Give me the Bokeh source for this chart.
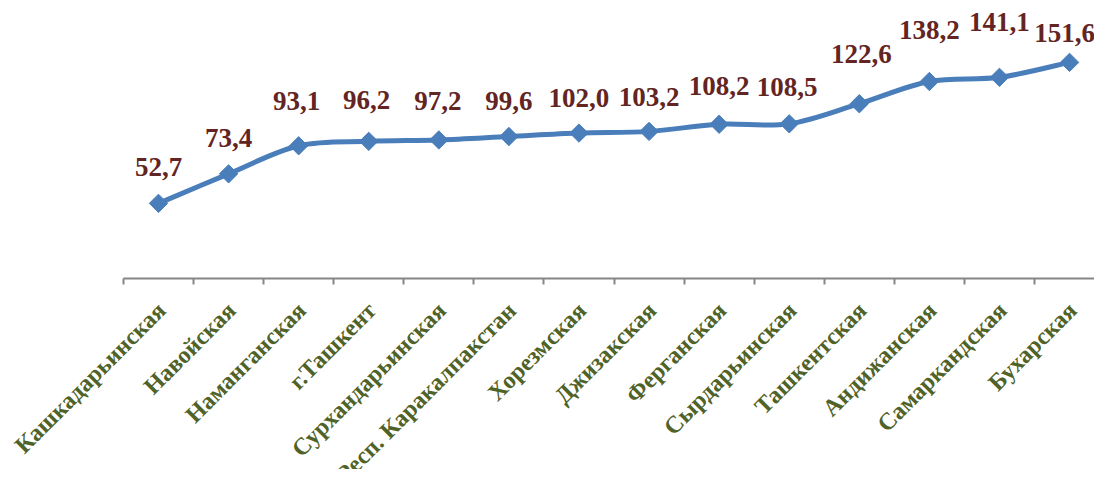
import numpy as np
from bokeh.plotting import figure
from bokeh.models import ColumnDataSource, Range1d, FixedTicker
from bokeh.core.properties import value
from bokeh.embed import file_html
from bokeh.resources import INLINE

regions = ["Кашкадарьинская", "Навойская", "Наманганская", "г.Ташкент",
           "Сурхандарьинская", "Респ. Каракалпакстан", "Хорезмская", "Джизакская",
           "Ферганская", "Сырдарьинская", "Ташкентская", "Андижанская",
           "Самаркандская", "Бухарская"]
values = [52.7, 73.4, 93.1, 96.2, 97.2, 99.6, 102.0, 103.2, 108.2, 108.5,
          122.6, 138.2, 141.1, 151.6]
value_labels = ["52,7", "73,4", "93,1", "96,2", "97,2", "99,6", "102,0", "103,2",
                "108,2", "108,5", "122,6", "138,2", "141,1", "151,6"]

# per-label placement nudges (screen px, style only)
label_dy = [-36, -36, -45, -41, -39, -36, -35, -34, -38, -37, -50, -51, -55, -29]
label_dx = [0, 0, -2, -2, -1, 0, 0, 0, 0, -2, 2, 0, 0, -5]

LINE = "#4A7EBB"
LABEL_RED = "#632523"
CAT_GREEN = "#4F6228"
AXIS_GRAY = "#868686"

n = len(values)
xs = np.arange(n, dtype=float)
ys = np.array(values, dtype=float)

# frame spans the whole canvas: ~70.08 px per category, first category at 158px;
# value 0 sits at 278px (1.4257 px per unit), top at 8px
p = figure(width=1094, height=469, output_backend="svg", toolbar_location=None,
           x_range=Range1d(-2.2546, 13.356), y_range=Range1d(-134.0, 189.4),
           min_border_left=0, min_border_right=0, min_border_top=8,
           min_border_bottom=0)
p.outline_line_color = None
p.grid.visible = False
p.yaxis.visible = False
p.background_fill_color = "white"
p.border_fill_color = "white"

# smooth (Catmull-Rom -> cubic Bezier) connecting line
P = np.column_stack([xs, ys])
Pp = np.vstack([P[0], P, P[-1]])
x0 = P[:-1, 0]; y0 = P[:-1, 1]
x1 = P[1:, 0]; y1 = P[1:, 1]
c0 = Pp[1:-2] + (Pp[2:-1] - Pp[0:-3]) / 6.0
c1 = Pp[2:-1] - (Pp[3:] - Pp[1:-2]) / 6.0
p.bezier(x0=x0, y0=y0, x1=x1, y1=y1, cx0=c0[:, 0], cy0=c0[:, 1],
         cx1=c1[:, 0], cy1=c1[:, 1], line_color=LINE, line_width=5,
         line_cap="round", line_join="round")

p.scatter(xs, ys, marker="square", size=13, angle=np.pi / 4,
          fill_color=LINE, line_color=LINE, line_width=1)

src = ColumnDataSource(dict(x=xs, y=ys, t=value_labels, dy=label_dy, dx=label_dx))
p.text(x="x", y="y", text="t", y_offset="dy", x_offset="dx", source=src,
       text_align="center", text_baseline="middle",
       text_font=value("Liberation Serif"), text_font_style="bold",
       text_font_size="27px", text_color=LABEL_RED)

ax = p.xaxis[0]
ax.fixed_location = 0
ax.bounds = (-0.5, n - 0.5)
ax.ticker = FixedTicker(ticks=list(xs), minor_ticks=list(np.arange(-0.5, n, 1.0)))
ax.major_label_overrides = {float(i): "" for i in range(n)}
ax.major_label_text_font_size = "0px"
ax.major_tick_line_color = None
ax.major_tick_out = 0
ax.major_tick_in = 0
ax.minor_tick_line_color = AXIS_GRAY
ax.minor_tick_line_width = 2
ax.minor_tick_out = 6
ax.minor_tick_in = 0
ax.axis_line_color = AXIS_GRAY
ax.axis_line_width = 2

# category labels, rotated 45°, ending just below each category centre
cat_src = ColumnDataSource(dict(x=xs, y=np.zeros(n), t=regions))
p.text(x="x", y="y", text="t", source=cat_src, angle=np.pi / 4,
       x_offset=3, y_offset=28, text_align="right", text_baseline="middle",
       text_font=value("Liberation Serif"), text_font_style="bold",
       text_font_size="24px", text_color=CAT_GREEN)

open("out.html", "w").write(file_html(p, INLINE))
